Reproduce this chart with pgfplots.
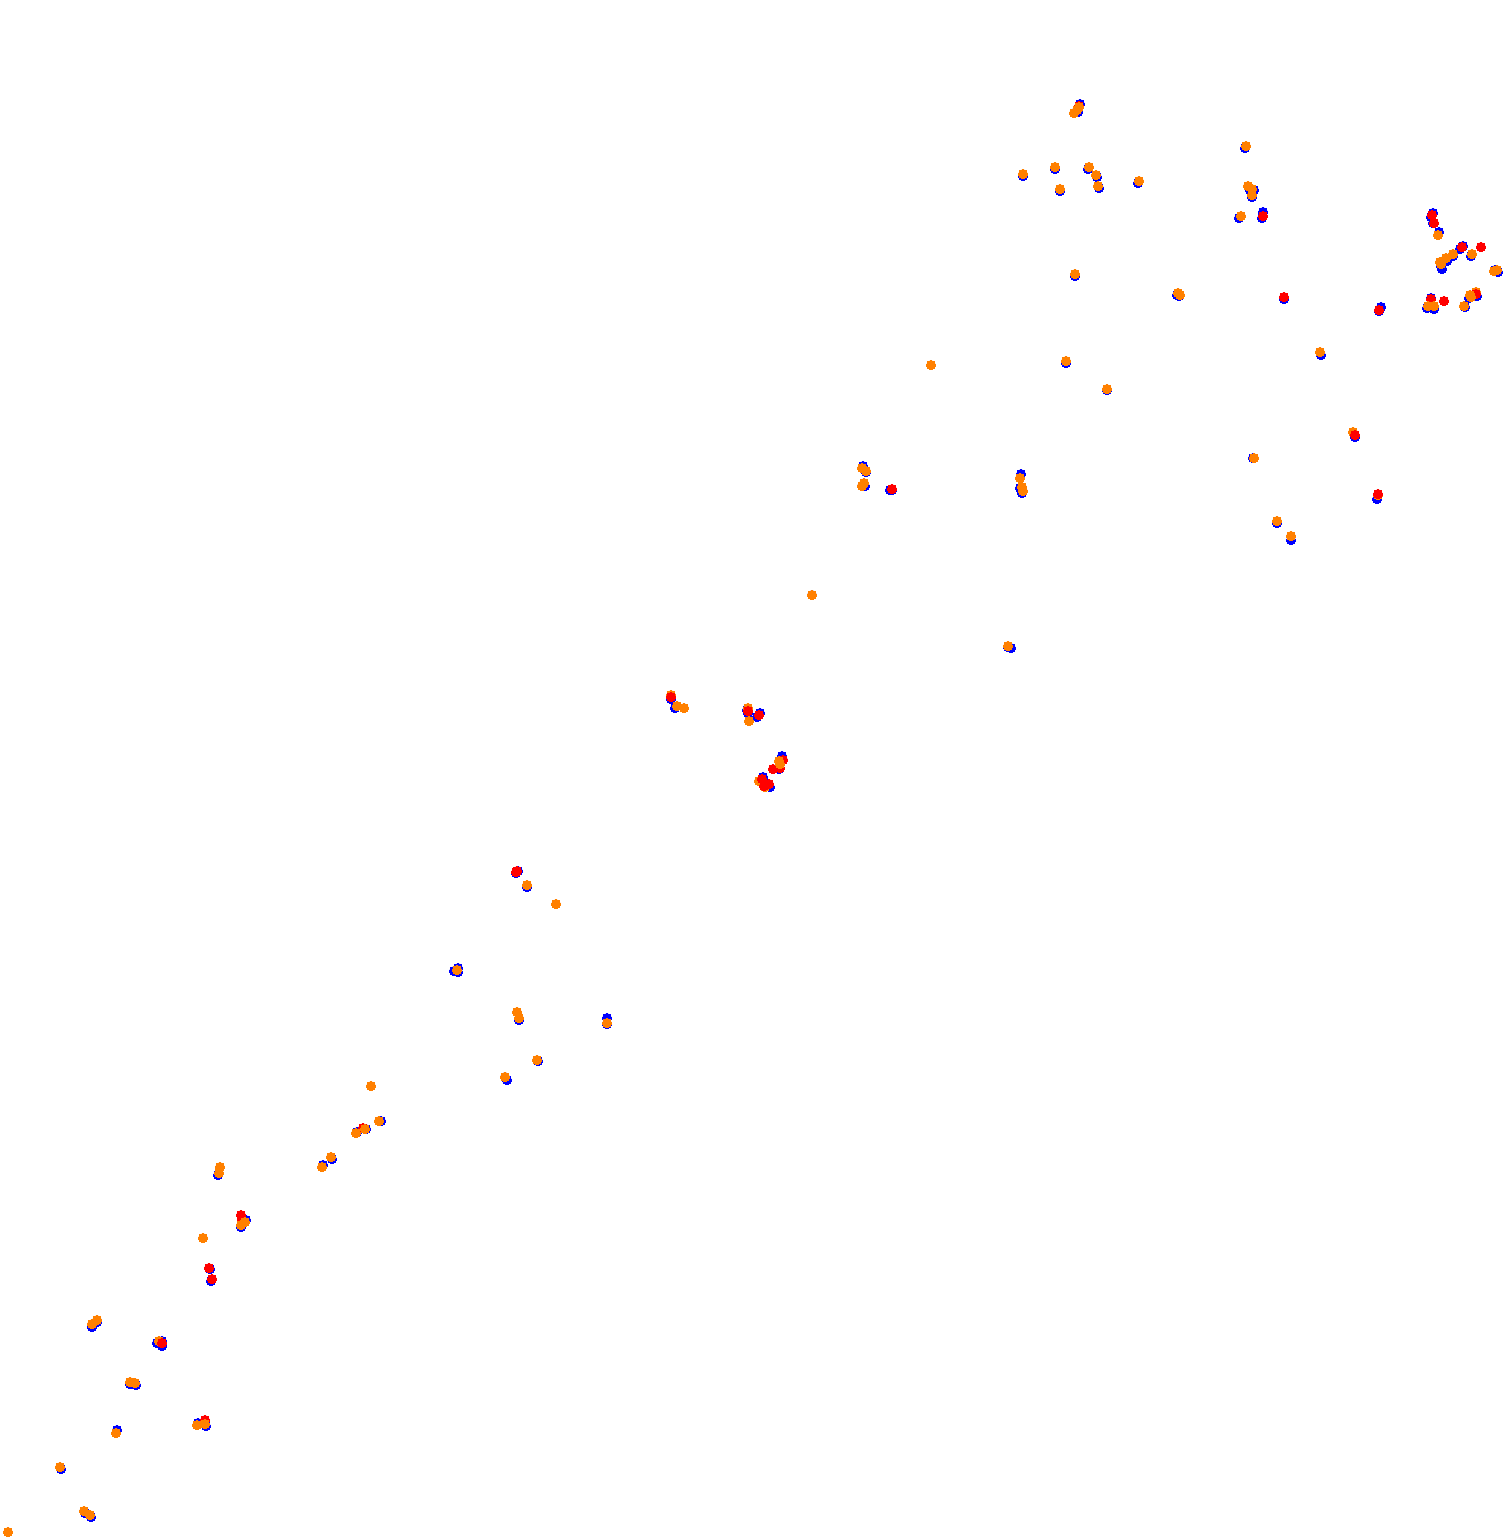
\documentclass[border=0pt]{standalone}
\usepackage{pgfplots}
\pgfplotsset{compat=1.18}
\definecolor{dotblue}{RGB}{0,0,255}
\definecolor{dotred}{RGB}{255,0,0}
\definecolor{dotorange}{RGB}{255,128,0}
\pgfplotsset{dots/.style={only marks,mark=*,color=#1,mark size=1.88mm,mark options={solid,draw=none,fill=#1,line width=0pt}}}
\begin{document}
\begin{tikzpicture}
\path[use as bounding box] (0,0) rectangle (60.2,61.52);
\begin{axis}[at={(0,0)},anchor=south west,scale only axis,width=60.2cm,height=61.52cm,
  xmin=0,xmax=1505,ymin=0,ymax=1538,y dir=reverse,hide axis,clip=false]
% blue series
\addplot[dots=dotblue] coordinates {
(1080,104)(1078,112)(1023,176)(1055,169)(1060,191)(1088,169)(1097,177)(1099,188)(1138,183)
(1245,148)(1250,190)(1254,190)(1252,197)(1239,218)(1263,212)(1262,218)(1284,299)
(1433,213)(1431,217)(1433,223)(1439,232)(1463,246)(1460,249)(1471,256)(1442,269)(1441,266)(1447,261)(1453,256)
(1495,270)(1498,272)(1431,298)(1427,308)(1434,309)(1465,307)(1477,296)(1469,298)(1381,307)(1379,311)
(1066,363)(1107,390)(1075,276)(1177,295)(1179,296)(1321,355)(1355,437)(1253,458)(1377,499)(1277,523)(1291,540)
(812,595)(1011,648)(1008,647)(863,466)(866,472)(865,486)(862,486)(1021,474)(1020,488)(1022,493)(892,490)(890,490)
(671,699)(675,708)(748,713)(747,710)(760,713)(757,717)(782,756)(783,760)(779,769)(763,777)(770,787)(767,784)
(527,887)(516,873)(518,871)(454,971)(458,972)(458,968)(519,1020)(607,1018)(607,1024)(538,1061)(505,1077)(507,1080)
(381,1121)(357,1132)(366,1129)(332,1159)(323,1165)(218,1175)(246,1220)(241,1227)(210,1269)(211,1281)
(92,1327)(97,1322)(157,1343)(162,1346)(162,1341)(130,1384)(136,1385)(117,1430)(198,1423)(206,1426)(61,1469)(85,1513)(91,1517)
};
% orange beneath the red dots
\addplot[dots=dotorange] coordinates {
(671,695)(748,708)(759,781)(765,787)(1476,292)(159,1341)(1353,432)(1378,495)
};
% red series
\addplot[dots=dotred] coordinates {
(1079,106)(1263,216)(1284,297)(1432,215)(1434,223)(1462,247)(1481,247)(1431,299)(1444,301)(1476,294)(1379,310)
(1355,435)(1378,494)(892,489)(671,697)(748,711)(759,715)(773,769)(783,760)(762,779)(764,786)(769,784)(780,768)
(517,871)(516,872)(241,1215)(242,1220)(363,1128)(209,1268)(212,1279)(162,1343)(205,1420)
};
% orange on top
\addplot[dots=dotorange] coordinates {
(1074,113)(1077,110)(1079,107)(1023,174)(1055,167)(1060,189)(1089,167)(1096,175)(1098,186)(1139,181)
(1246,146)(1248,186)(1252,189)(1252,195)(1241,216)
(1438,235)(1440,262)(1441,264)(1446,258)(1453,254)(1472,254)(1494,271)(1497,270)
(1428,306)(1434,306)(1464,306)(1470,295)(1471,297)
(931,365)(1066,361)(1107,389)(1075,274)(1178,293)(1180,295)(1320,352)(1254,458)(1277,521)(1291,536)
(812,595)(1008,646)(862,468)(866,471)(864,483)(862,486)(1020,478)(1022,487)(1023,491)
(677,706)(684,708)(749,721)(779,761)(780,764)
(556,904)(527,885)(457,970)(517,1012)(519,1018)(607,1023)(537,1060)(505,1077)
(371,1086)(379,1121)(356,1133)(365,1129)(331,1157)(322,1167)(220,1167)(219,1173)(245,1222)(241,1225)(203,1238)
(92,1324)(97,1320)(130,1382)(135,1383)(116,1433)(197,1425)(205,1424)(60,1467)(84,1511)(90,1515)(8,1532)
};
\end{axis}
\end{tikzpicture}
\end{document}
